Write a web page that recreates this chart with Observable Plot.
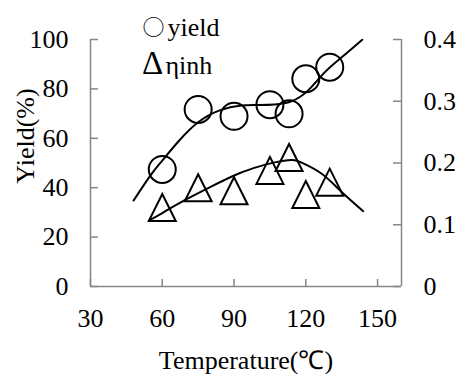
<!DOCTYPE html>
<html><head><meta charset="utf-8">
<script src="https://cdn.jsdelivr.net/npm/d3@7"></script>
<script src="https://cdn.jsdelivr.net/npm/@observablehq/plot@0.6"></script>
<style>
body{margin:0;background:#fff}
#chart svg text{font-family:"Liberation Serif","Times New Roman",serif;}
</style>
</head><body><div id="chart"></div>
<script>
// measured points
const temps = [60, 75, 90, 105, 113, 120, 130];
const yieldPct = [47.4, 71.7, 68.9, 73.6, 69.9, 84.1, 88.8];
const etaInh = [0.128, 0.160, 0.155, 0.188, 0.209, 0.149, 0.169];
// trend curves
const yieldTrendT = [48, 55, 60, 67, 75, 84, 93, 100, 107, 114, 121, 128, 135, 143.6];
const yieldTrendV = [34.8, 44.9, 51, 59, 66.5, 71.3, 73.3, 73.5, 73.7, 75, 79.4, 86.8, 92.8, 99.9];
const etaTrendT = [54.5, 60, 69, 80, 92, 101, 107, 114, 118, 126.5, 135, 144];
const etaTrendV = [0.107, 0.119, 0.139, 0.161, 0.183, 0.195, 0.201, 0.205, 0.201, 0.183, 0.153, 0.122];
// axes
const xTicks = [30, 60, 90, 120, 150];
const xDomain = [30, 160];
const leftTicks = [0, 20, 40, 60, 80, 100];
const rightTicks = [0, 0.1, 0.2, 0.3, 0.4];
const legendSymbols = ["○", "Δ"];
const legendLabels = ["yield", "ηinh"];
const xLabel = "Temperature(℃)";
const yLabel = "Yield(%)";

const yMax = leftTicks[leftTicks.length - 1], etaMax = rightTicks[rightTicks.length - 1];
const k = yMax / etaMax;
const W = 462, H = 374, mL = 90, mR = 61, mT = 39, mB = 88;
const innerW = W - mL - mR, innerH = H - mT - mB;
const axisColor = "#868686";
const serif = "'Liberation Serif','Times New Roman',serif";
const fs = 26;
const tri = {draw(ctx, size) { const r = Math.sqrt(size / Math.PI); ctx.moveTo(0, -r); ctx.lineTo(r, r); ctx.lineTo(-r, r); ctx.closePath(); }};
const idx = temps.map((_, i) => i);
const yi = yieldTrendT.map((_, i) => i);
const ei = etaTrendT.map((_, i) => i);
const txt = {fontFamily: serif, fontSize: fs, fill: "#000"};
const free = {lineAnchor: "middle"};

const plot = Plot.plot({
  width: W, height: H, marginLeft: mL, marginRight: mR, marginTop: mT, marginBottom: mB,
  style: {fontFamily: serif, fontSize: fs + "px", color: "#000", background: "#fff", overflow: "visible"},
  x: {domain: xDomain}, y: {domain: [0, yMax]},
  marks: [
    Plot.ruleX([xDomain[0], xDomain[1]], {stroke: axisColor, strokeWidth: 1.5}),
    Plot.ruleY([0], {stroke: axisColor, strokeWidth: 1.5}),
    Plot.tickY(leftTicks, {y: d => d, stroke: axisColor, strokeWidth: 1.5, insetRight: innerW - 8}),
    Plot.tickY(rightTicks, {y: d => d * k, stroke: axisColor, strokeWidth: 1.5, insetLeft: innerW - 8}),
    Plot.tickX(xTicks, {x: d => d, stroke: axisColor, strokeWidth: 1.5, insetTop: innerH - 7}),
    Plot.axisY(leftTicks, {anchor: "left", tickSize: 0, tickPadding: 22, label: null, ...txt}),
    Plot.axisY(rightTicks.map(d => d * k), {anchor: "right", tickSize: 0, tickPadding: 22, label: null, ...txt, tickFormat: d => String(+(d / k).toFixed(2))}),
    Plot.axisX(xTicks, {anchor: "bottom", tickSize: 0, tickPadding: 22, label: null, ...txt}),
    Plot.line(yi, {x: i => yieldTrendT[i], y: i => yieldTrendV[i], curve: "natural", stroke: "#000", strokeWidth: 2}),
    Plot.line(ei, {x: i => etaTrendT[i], y: i => etaTrendV[i] * k, curve: "natural", stroke: "#000", strokeWidth: 2}),
    Plot.dot(idx, {x: i => temps[i], y: i => yieldPct[i], r: 13.5, stroke: "#000", strokeWidth: 2, fill: "none"}),
    Plot.dot(idx, {x: i => temps[i], y: i => etaInh[i] * k, r: 13.5, symbol: tri, stroke: "#000", strokeWidth: 2, fill: "none"}),
    Plot.text([legendSymbols[0]], {text: d => d, frameAnchor: "top-left", textAnchor: "middle", ...free, dx: 63, dy: -12, fontSize: 22, fill: "#000"}),
    Plot.text([legendSymbols[1]], {text: d => d, frameAnchor: "top-left", textAnchor: "middle", ...free, dx: 62, dy: 24, fontSize: 33, fill: "#000"}),
    Plot.text([legendLabels[0]], {text: d => d, frameAnchor: "top-left", textAnchor: "start", ...free, dx: 77, dy: -12, ...txt}),
    Plot.text([legendLabels[1]], {text: d => d, frameAnchor: "top-left", textAnchor: "start", ...free, dx: 75, dy: 26, ...txt}),
    Plot.text([xLabel], {text: d => d, frameAnchor: "bottom", textAnchor: "middle", ...free, dy: 74, ...txt}),
    Plot.text([yLabel], {text: d => d, frameAnchor: "left", textAnchor: "middle", ...free, rotate: -90, dx: -65, dy: -27, ...txt})
  ]
});
d3.select(plot).selectAll("text").filter(function() { return this.textContent === legendSymbols[0]; })
  .style("font-family", "'Noto Sans CJK SC','DejaVu Sans',sans-serif");
d3.select(plot).selectAll("text").filter(function() { return this.textContent === legendSymbols[1]; })
  .style("font-family", "'Liberation Serif',serif");
document.getElementById("chart").append(plot);
</script>
</body></html>
